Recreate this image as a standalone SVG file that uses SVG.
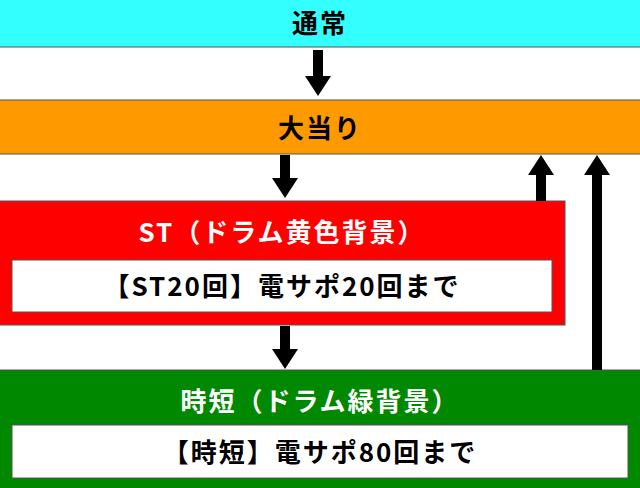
<svg xmlns="http://www.w3.org/2000/svg" width="640" height="488" viewBox="0 0 640 488">
<style>
.b{stroke:#555;stroke-width:1}
.t{font-family:"Noto Sans CJK JP","Noto Sans",sans-serif;font-size:26px;font-weight:bold;letter-spacing:2px;text-anchor:middle}
.w{fill:#fff}
.a{fill:#000}
</style>
<rect width="640" height="488" fill="#fff"/>
<g id="normal"><rect x="-1" y="-1" width="642" height="48" fill="#33ffff" class="b"/><text x="320" y="33" class="t">通常</text></g>
<g id="bonus"><rect x="-1" y="100" width="642" height="54" fill="#ff9900" class="b"/><text x="320" y="138" class="t">大当り</text></g>
<g id="st"><rect x="-1" y="201" width="566" height="124" fill="#ff0000" class="b"/><text x="282" y="242" class="t w">ST（ドラム黄色背景）</text>
<rect x="12" y="260" width="540" height="52" fill="#fff" class="b"/><text x="282" y="296" class="t">【ST20回】電サポ20回まで</text></g>
<g id="jitan"><rect x="-1" y="370" width="642" height="120" fill="#008800" class="b"/><text x="320" y="411" class="t w">時短（ドラム緑背景）</text>
<rect x="12" y="425" width="616" height="53" fill="#fff" class="b"/><text x="320" y="462" class="t">【時短】電サポ80回まで</text></g>
<g id="connectors">
<polygon class="a" points="313,50 323,50 323,76 331,76 318,96 305,76 313,76"/>
<polygon class="a" points="280,155 290,155 290,178 298,178 285,198 272,178 280,178"/>
<polygon class="a" points="280,326 290,326 290,349 298,349 285,369 272,349 280,349"/>
<polygon class="a" points="536,201 546,201 546,175 554,175 541,155 528,175 536,175"/>
<polygon class="a" points="592,370 602,370 602,175 610,175 597,155 584,175 592,175"/>
</g>
</svg>
